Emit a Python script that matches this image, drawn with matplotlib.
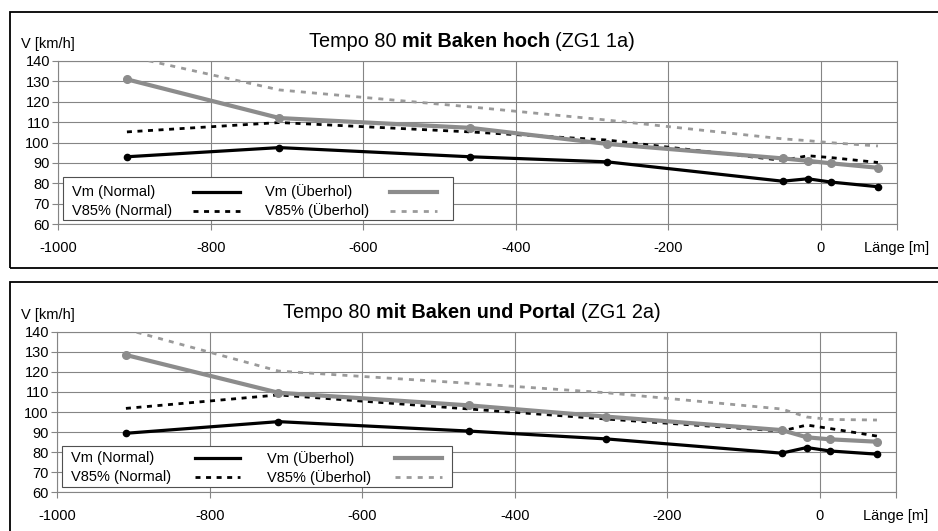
import matplotlib
matplotlib.use("Agg")
import matplotlib.pyplot as plt
from matplotlib.patches import Rectangle
from matplotlib.lines import Line2D

plt.rcParams['font.family'] = ['Liberation Sans', 'DejaVu Sans']

# ---------------- data ----------------
x_pos = [-910, -710, -460, -280, -50, -17, 13, 75]

top_vm_normal = [93.0, 97.5, 93.0, 90.5, 81.0, 82.2, 80.6, 78.3]
top_vm_ueber = [131.0, 112.0, 107.2, 99.3, 92.2, 91.0, 89.8, 87.6]
top_v85_normal = [105.2, 109.8, 105.2, 101.2, 91.2, 93.5, 92.6, 90.2]
top_v85_ueber = [142.5, 125.8, 117.5, 111.0, 101.8, 100.9, 99.9, 98.3]

bot_vm_normal = [89.4, 95.2, 90.5, 86.6, 79.5, 82.3, 80.6, 79.0]
bot_vm_ueber = [128.4, 109.6, 103.3, 97.7, 91.0, 87.4, 86.4, 85.2]
bot_v85_normal = [101.8, 108.5, 101.5, 96.5, 90.5, 93.5, 91.8, 88.0]
bot_v85_ueber = [141.2, 120.4, 114.3, 109.6, 101.5, 97.5, 96.3, 96.0]

x_ticks = [-1000, -800, -600, -400, -200, 0, 100]
x_tick_labels = ["-1000", "-800", "-600", "-400", "-200", "0", "Länge [m]"]
y_ticks = [60, 70, 80, 90, 100, 110, 120, 130, 140]

series_labels = ["Vm (Normal)", "V85% (Normal)", "Vm (Überhol)", "V85% (Überhol)"]

titles = [
    [("Tempo 80", "normal"), ("mit Baken hoch", "bold"), ("(ZG1 1a)", "normal")],
    [("Tempo 80", "normal"), ("mit Baken und Portal", "bold"), ("(ZG1 2a)", "normal")],
]

# ---------------- styles ----------------
W, H = 938, 531
BLACK = "#000000"
GRAY = "#8c8c8c"
GRAYD = "#9a9a9a"
GRID = "#858585"
FS = 10.5

styles = [
    dict(color=BLACK, lw=2.3, ls="-", marker="o", ms=4.5),
    dict(color=BLACK, lw=2.0, ls=(0, (1.8, 2.0)), marker=None, ms=0),
    dict(color=GRAY, lw=3.0, ls="-", marker="o", ms=5.5),
    dict(color=GRAYD, lw=2.0, ls=(0, (1.8, 2.2)), marker=None, ms=0),
]

fig = plt.figure(figsize=(W / 100, H / 100), dpi=100)
fig.patch.set_facecolor("white")


def fx(px):
    return px / W


def fy(py):
    return 1 - py / H


# panel frames
for (y0, y1) in [(12, 268), (282, 535)]:
    fig.add_artist(Rectangle((fx(10), fy(y1)), fx(950) - fx(10), fy(y0) - fy(y1),
                             transform=fig.transFigure, fill=False, ec="black",
                             lw=1.3, clip_on=False))

panels = [
    dict(ax=(58.3, 61, 897, 224), data=[top_vm_normal, top_v85_normal, top_vm_ueber, top_v85_ueber],
         title_base=47, ylab=44,
         leg=dict(box=(63, 177, 453, 220), rows=(191.7, 210.7), tx=(72, 265),
                  hx=((193, 240), (390, 437)))),
    dict(ax=(57.3, 331.7, 896, 492.3), data=[bot_vm_normal, bot_v85_normal, bot_vm_ueber, bot_v85_ueber],
         title_base=317.5, ylab=315,
         leg=dict(box=(62.3, 445.7, 452.3, 486.7), rows=(458.3, 477.3), tx=(70.7, 266.7),
                  hx=((195, 240), (395, 441.7)))),
]

renderer = fig.canvas.get_renderer()

for p, title in zip(panels, titles):
    l, t, r, b = p["ax"]
    ax = fig.add_axes([fx(l), fy(b), fx(r) - fx(l), fy(t) - fy(b)])
    ax.set_xlim(-1000, 100)
    ax.set_ylim(60, 140)
    ax.set_xticks(x_ticks)
    ax.set_xticklabels(x_tick_labels)
    ax.set_yticks(y_ticks)
    ax.tick_params(axis="both", direction="out", length=4, width=0.8, color=GRID,
                   labelsize=FS, labelcolor="black")
    ax.tick_params(axis="x", pad=8)
    ax.tick_params(axis="y", pad=2)
    ax.grid(True, color=GRID, lw=0.8)
    ax.set_axisbelow(True)
    for s in ax.spines.values():
        s.set_color(GRID)
        s.set_linewidth(0.8)

    for vals, st in zip(p["data"], styles):
        ax.plot(x_pos, vals, color=st["color"], lw=st["lw"], ls=st["ls"],
                marker=st["marker"], ms=st["ms"], mfc=st["color"], mec=st["color"],
                zorder=3)

    # legend drawn manually (labels first, sample lines after)
    lg = p["leg"]
    axw = r - l
    axh = b - t

    def axx(px):
        return (px - l) / axw

    def axy(py):
        return (b - py) / axh

    bx0, by0, bx1, by1 = lg["box"]
    ax.add_patch(Rectangle((axx(bx0), axy(by1)), axx(bx1) - axx(bx0), axy(by0) - axy(by1),
                           transform=ax.transAxes, fc="white", ec="#505050", lw=0.8,
                           zorder=5, clip_on=False))
    order = [(0, 0, 0), (1, 1, 0), (2, 0, 1), (3, 1, 1)]
    for idx, row, col in order:
        st = styles[idx]
        yy = axy(lg["rows"][row])
        ax.text(axx(lg["tx"][col]), yy, series_labels[idx], transform=ax.transAxes,
                fontsize=FS, va="center", ha="left", zorder=6)
        hx0, hx1 = lg["hx"][col]
        ax.add_line(Line2D([axx(hx0), axx(hx1)], [yy, yy], transform=ax.transAxes,
                           color=st["color"], lw=st["lw"], ls=st["ls"], zorder=6,
                           clip_on=False))

    # V [km/h] label
    fig.text(fx(21), fy(p["ylab"]), "V [km/h]", fontsize=FS, va="center", ha="left")

    # mixed-weight title
    pieces = []
    widths = []
    for s, w in title:
        tt = fig.text(0, fy(p["title_base"]), s, fontsize=14.3, fontweight=w,
                      va="baseline", ha="left")
        pieces.append(tt)
        widths.append(tt.get_window_extent(renderer).width)
    sep = 14.3 * 100 / 72 * 0.278
    total = sum(widths) + sep * (len(widths) - 1)
    x0 = 472 - total / 2
    for tt, wdt in zip(pieces, widths):
        tt.set_x(fx(x0))
        x0 += wdt + sep

fig.savefig("out.png", dpi=100, facecolor="white")
